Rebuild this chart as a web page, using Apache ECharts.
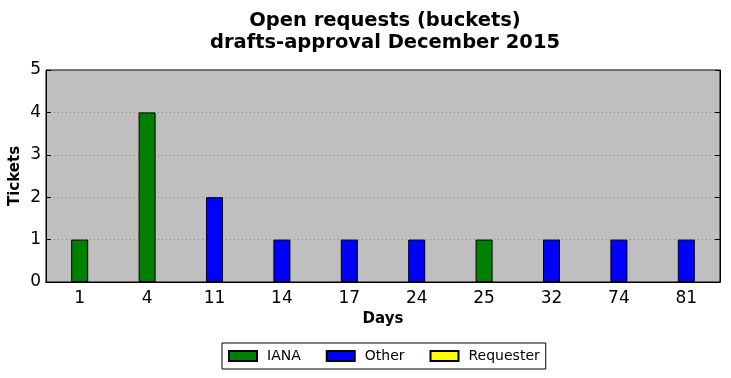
<!DOCTYPE html>
<html>
<head>
<meta charset="utf-8">
<script src="https://cdn.jsdelivr.net/npm/echarts@6/dist/echarts.min.js"></script>
<style>
  html, body { margin: 0; padding: 0; background: #fff; }
  #chart { width: 731px; height: 378px; }
</style>
</head>
<body>
<div id="chart"></div>
<script>
const days = ['1', '4', '11', '14', '17', '24', '25', '32', '74', '81'];
const iana = [1, 4, 0, 0, 0, 0, 1, 0, 0, 0];
const other = [0, 0, 2, 1, 1, 1, 0, 1, 1, 1];
const requester = [0, 0, 0, 0, 0, 0, 0, 0, 0, 0];

const font = 'DejaVu Sans';
// hide zero-height segments so they don't draw stray borders
const nz = arr => arr.map(v => (v === 0 ? null : v));

const myChart = echarts.init(document.getElementById('chart'));

const barSeries = (name, color, data) => ({
    name: name,
    type: 'bar',
    stack: 'total',
    barWidth: 17,
    data: nz(data),
    itemStyle: { color: color, borderColor: '#000', borderWidth: 1 },
});

const option = {
    animation: false,
    textStyle: { fontFamily: font },
    title: {
        text: 'Open requests (buckets)\ndrafts-approval December 2015',
        left: 380,
        textAlign: 'center',
        top: 5,
        textStyle: { fontFamily: font, fontSize: 19.5, fontWeight: 'bold', lineHeight: 22, color: '#000' },
    },
    legend: {
        left: 222,
        top: 343,
        itemWidth: 28,
        itemHeight: 10,
        itemGap: 25,
        icon: 'rect',
        padding: [6, 6, 6, 6],
        borderColor: '#000',
        borderWidth: 1,
        borderRadius: 0,
        textStyle: { fontFamily: font, fontSize: 14, color: '#000', padding: [0, 0, 0, 5] },
        data: ['IANA', 'Other', 'Requester'],
    },
    grid: {
        left: 46,
        right: 11,
        top: 70,
        bottom: 96,
        outerBoundsMode: 'none',
        containLabel: false,
        show: true,
        backgroundColor: '#bfbfbf',
        borderColor: '#000',
        borderWidth: 1,
    },
    xAxis: [
        {
            type: 'category',
            data: days,
            name: 'Days',
            nameLocation: 'middle',
            nameGap: 30,
            nameMoveOverlap: false,
            nameTextStyle: { fontFamily: font, fontSize: 15, fontWeight: 'bold', color: '#000' },
            axisLine: { lineStyle: { color: '#000' } },
            axisTick: { inside: true, alignWithLabel: true, length: 5, lineStyle: { color: '#000' } },
            axisLabel: { fontFamily: font, fontSize: 17, color: '#000', margin: 8 },
        },
        {
            type: 'category',
            data: days,
            position: 'top',
            axisLine: { lineStyle: { color: '#000' } },
            axisTick: { inside: true, alignWithLabel: true, length: 5, lineStyle: { color: '#000' } },
            axisLabel: { show: false },
        },
    ],
    yAxis: [
        {
            type: 'value',
            min: 0,
            max: 5,
            interval: 1,
            name: 'Tickets',
            nameLocation: 'middle',
            nameGap: 23,
            nameMoveOverlap: false,
            nameTextStyle: { fontFamily: font, fontSize: 15, fontWeight: 'bold', color: '#000' },
            axisLine: { show: true, lineStyle: { color: '#000' } },
            axisTick: { show: true, inside: true, length: 5, lineStyle: { color: '#000' } },
            axisLabel: { fontFamily: font, fontSize: 17, color: '#000', margin: 5 },
            splitLine: { show: true, lineStyle: { color: '#808080', type: [1, 3], width: 1 } },
        },
        {
            type: 'value',
            min: 0,
            max: 5,
            interval: 1,
            position: 'right',
            axisLine: { show: true, lineStyle: { color: '#000' } },
            axisTick: { show: true, inside: true, length: 5, lineStyle: { color: '#000' } },
            axisLabel: { show: false },
            splitLine: { show: false },
        },
    ],
    series: [
        barSeries('IANA', '#008000', iana),
        barSeries('Other', '#0000ff', other),
        barSeries('Requester', '#ffff00', requester),
    ],
};

myChart.setOption(option);
</script>
</body>
</html>
